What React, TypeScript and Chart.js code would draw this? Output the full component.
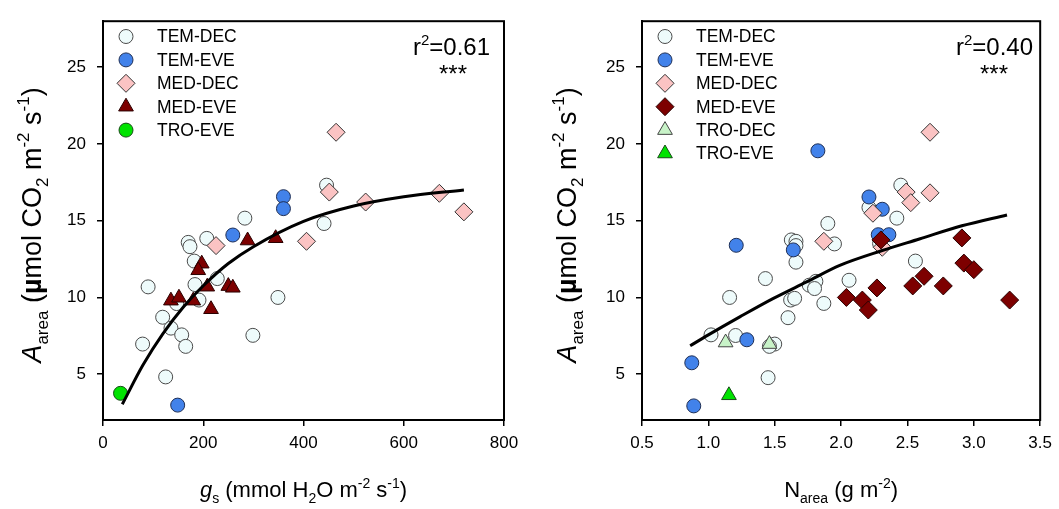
import React, { useEffect, useRef } from "react";
import { Chart, registerables } from "chart.js";
import { drawPoint } from "chart.js/helpers";

Chart.register(...registerables);

// ---------------- Left panel: gs (mmol H2O m-2 s-1) vs Aarea ----------------
const gsTemDecX = [170, 173.5, 207, 182, 90, 183.5, 191.5, 147, 228, 119, 135.6, 157, 165, 79, 125, 349, 299, 283, 441, 446];
const gsTemDecY = [13.58, 13.3, 13.84, 12.36, 10.68, 10.83, 9.82, 9.59, 11.22, 8.7, 7.99, 7.55, 6.8, 6.95, 4.81, 9.99, 7.52, 15.16, 14.81, 17.31];
const gsTemEveX = [259, 149, 360, 360];
const gsTemEveY = [14.06, 2.97, 16.56, 15.78];
const gsMedDecX = [225.5, 465, 451.5, 524, 671, 720, 406];
const gsMedDecY = [13.37, 20.76, 16.86, 16.21, 16.78, 15.57, 13.65];
const gsMedEveX = [288.5, 344.5, 197, 190, 208, 250, 259, 135.5, 151.5, 180, 215.5];
const gsMedEveY = [13.7, 13.85, 12.19, 11.76, 10.69, 10.73, 10.62, 9.78, 9.97, 9.78, 9.22];
const gsTroEveX = [35];
const gsTroEveY = [3.74];
const gsFitX = [38.5, 80, 120, 160, 200, 250, 300, 400, 500, 600, 720];
const gsFitY = [3.03, 5.6, 7.65, 9.35, 10.75, 12.2, 13.3, 14.95, 15.95, 16.55, 17.0];
const gsTicks = [0, 200, 400, 600, 800];

// ---------------- Right panel: Narea (g m-2) vs Aarea ----------------
const nTemDecX = [1.9, 1.625, 1.66, 1.66, 1.66, 1.95, 1.43, 1.16, 1.76, 1.81, 1.8, 1.62, 1.65, 1.87, 1.6, 1.02, 1.205, 1.5, 1.46, 1.45, 2.06, 2.56, 2.42, 2.45, 2.21, 2.29];
const nTemDecY = [14.81, 13.74, 13.65, 13.37, 12.29, 13.48, 11.22, 9.99, 10.79, 11.04, 10.57, 9.82, 9.93, 9.6, 8.67, 7.55, 7.51, 6.95, 6.8, 4.76, 11.11, 12.36, 15.16, 17.31, 15.85, 13.5];
const nTemEveX = [1.21, 1.64, 1.29, 0.875, 0.89, 1.825, 2.21, 2.31, 2.28, 2.36];
const nTemEveY = [13.39, 13.09, 7.23, 5.73, 2.92, 19.55, 16.54, 15.74, 14.08, 14.08];
const nMedDecX = [1.87, 2.67, 2.49, 2.525, 2.67, 2.24, 2.31];
const nMedDecY = [13.65, 20.76, 16.86, 16.17, 16.81, 15.48, 13.26];
const nMedEveX = [2.3, 2.91, 2.925, 3.0, 2.625, 2.54, 2.77, 2.27, 2.04, 2.16, 2.205, 3.27];
const nMedEveY = [13.74, 13.87, 12.23, 11.8, 11.37, 10.74, 10.74, 10.61, 9.99, 9.82, 9.17, 9.82];
const nTroDecX = [1.13, 1.46];
const nTroDecY = [7.05, 6.95];
const nTroEveX = [1.155];
const nTroEveY = [3.61];
const nFitX = [0.863, 1.0, 1.24, 1.49, 1.74, 1.99, 2.31, 2.59, 2.91, 3.25];
const nFitY = [6.84, 7.55, 8.74, 9.93, 11.0, 12.08, 13.05, 13.8, 14.66, 15.37];
const nTicks = [0.5, 1.0, 1.5, 2.0, 2.5, 3.0, 3.5];

const yTicks = [5, 10, 15, 20, 25];
const Y_MIN = 2;
const Y_MAX = 28;

const FONT = '"Liberation Sans", Arial, Helvetica, sans-serif';

type Style = { label: string; pointStyle: string; radius: number; fill: string; stroke: string; order: number };
const TEM_DEC: Style = { label: "TEM-DEC", pointStyle: "circle", radius: 7, fill: "#eefbfb", stroke: "#4a4a4a", order: 7 };
const TEM_EVE: Style = { label: "TEM-EVE", pointStyle: "circle", radius: 7, fill: "#4282ea", stroke: "#1f2f55", order: 6 };
const MED_DEC: Style = { label: "MED-DEC", pointStyle: "rectRot", radius: 9, fill: "#fbc3c3", stroke: "#333333", order: 5 };
const MED_EVE_T: Style = { label: "MED-EVE", pointStyle: "triangle", radius: 8.5, fill: "#7d0000", stroke: "#2a0000", order: 4 };
const MED_EVE_D: Style = { label: "MED-EVE", pointStyle: "rectRot", radius: 9, fill: "#7d0000", stroke: "#2a0000", order: 4 };
const TRO_DEC: Style = { label: "TRO-DEC", pointStyle: "triangle", radius: 8.5, fill: "#c8f3c8", stroke: "#444444", order: 3 };
const TRO_EVE_C: Style = { label: "TRO-EVE", pointStyle: "circle", radius: 7, fill: "#00e300", stroke: "#1a4a1a", order: 2 };
const TRO_EVE_T: Style = { label: "TRO-EVE", pointStyle: "triangle", radius: 8.5, fill: "#00e300", stroke: "#1a4a1a", order: 2 };

const pts = (xs: number[], ys: number[]) => xs.map((x, i) => ({ x, y: ys[i] }));

const scatterSet = (s: Style, xs: number[], ys: number[]) => ({
  label: s.label,
  data: pts(xs, ys),
  pointStyle: s.pointStyle,
  pointRadius: s.radius,
  pointBackgroundColor: s.fill,
  pointBorderColor: s.stroke,
  pointBorderWidth: 1,
  showLine: false,
  order: s.order,
  clip: false as any,
});

const fitSet = (xs: number[], ys: number[]) => ({
  label: "fit",
  data: pts(xs, ys),
  showLine: true,
  pointRadius: 0,
  borderColor: "#000",
  borderWidth: 3,
  cubicInterpolationMode: "monotone",
  order: 0,
  fill: false,
});

type Seg = { t: string; it?: boolean; b?: boolean; sub?: boolean; sup?: boolean };

function segFont(s: Seg, size: number) {
  const sz = s.sub || s.sup ? Math.round(size * 0.62) : size;
  return `${s.it ? "italic " : ""}${s.b ? "bold " : ""}${sz}px ${FONT}`;
}

function drawRich(ctx: CanvasRenderingContext2D, segs: Seg[], cx: number, cy: number, size: number, rotate: boolean, align: "center" | "right" = "center") {
  ctx.save();
  ctx.translate(cx, cy);
  if (rotate) ctx.rotate(-Math.PI / 2);
  ctx.textAlign = "left";
  ctx.textBaseline = "alphabetic";
  ctx.fillStyle = "#000";
  const widths = segs.map((s) => {
    ctx.font = segFont(s, size);
    return ctx.measureText(s.t).width;
  });
  const total = widths.reduce((a, b) => a + b, 0);
  let x = align === "center" ? -total / 2 : -total;
  const base = size * 0.36;
  segs.forEach((s, i) => {
    ctx.font = segFont(s, size);
    const dy = s.sub ? size * 0.26 : s.sup ? -size * 0.42 : 0;
    ctx.fillText(s.t, x, base + dy);
    x += widths[i];
  });
  ctx.restore();
}

type PanelCfg = {
  canvasLeft: number;
  canvasWidth: number;
  yWidth: number;
  padRight: number;
  xMin: number;
  xMax: number;
  xTicks: number[];
  xFmt: (v: number) => string;
  datasets: any[];
  legend: Style[];
  legX: number;
  legTextX: number;
  r2: string;
  r2X: number;
  starsX: number;
  yTitleX: number;
  xTitle: Seg[];
};

const yTitle: Seg[] = [
  { t: "A", it: true },
  { t: "area", sub: true },
  { t: " (" },
  { t: "\u00b5", b: true },
  { t: "mol CO" },
  { t: "2", sub: true },
  { t: " m" },
  { t: "-2", sup: true },
  { t: " s" },
  { t: "-1", sup: true },
  { t: ")" },
];

const leftCfg: PanelCfg = {
  canvasLeft: 0,
  canvasWidth: 530,
  yWidth: 103,
  padRight: 26,
  xMin: 0,
  xMax: 800,
  xTicks: gsTicks,
  xFmt: (v) => String(v),
  datasets: [
    fitSet(gsFitX, gsFitY),
    scatterSet(TEM_DEC, gsTemDecX, gsTemDecY),
    scatterSet(TEM_EVE, gsTemEveX, gsTemEveY),
    scatterSet(MED_DEC, gsMedDecX, gsMedDecY),
    scatterSet(MED_EVE_T, gsMedEveX, gsMedEveY),
    scatterSet(TRO_EVE_C, gsTroEveX, gsTroEveY),
  ],
  legend: [TEM_DEC, TEM_EVE, MED_DEC, MED_EVE_T, TRO_EVE_C],
  legX: 126,
  legTextX: 157,
  r2: "0.61",
  r2X: 490,
  starsX: 453,
  yTitleX: 31,
  xTitle: [
    { t: "g", it: true },
    { t: "s", sub: true },
    { t: " (mmol H" },
    { t: "2", sub: true },
    { t: "O m" },
    { t: "-2", sup: true },
    { t: " s" },
    { t: "-1", sup: true },
    { t: ")" },
  ],
};

const rightCfg: PanelCfg = {
  canvasLeft: 530,
  canvasWidth: 529,
  yWidth: 112,
  padRight: 17,
  xMin: 0.5,
  xMax: 3.5,
  xTicks: nTicks,
  xFmt: (v) => v.toFixed(1),
  datasets: [
    fitSet(nFitX, nFitY),
    scatterSet(TEM_DEC, nTemDecX, nTemDecY),
    scatterSet(TEM_EVE, nTemEveX, nTemEveY),
    scatterSet(MED_DEC, nMedDecX, nMedDecY),
    scatterSet(MED_EVE_D, nMedEveX, nMedEveY),
    scatterSet(TRO_DEC, nTroDecX, nTroDecY),
    scatterSet(TRO_EVE_T, nTroEveX, nTroEveY),
  ],
  legend: [TEM_DEC, TEM_EVE, MED_DEC, MED_EVE_D, TRO_DEC, TRO_EVE_T],
  legX: 135,
  legTextX: 166,
  r2: "0.40",
  r2X: 503,
  starsX: 464,
  yTitleX: 36,
  xTitle: [{ t: "N" }, { t: "area", sub: true }, { t: " (g m" }, { t: "-2", sup: true }, { t: ")" }],
};

function makePlugin(cfg: PanelCfg) {
  return {
    id: "panelDecor",
    afterDraw(chart: any) {
      const ctx: CanvasRenderingContext2D = chart.ctx;
      const a = chart.chartArea;
      ctx.save();
      ctx.strokeStyle = "#000";
      ctx.lineWidth = 2;
      ctx.strokeRect(a.left, a.top, a.right - a.left, a.bottom - a.top);

      // legend
      cfg.legend.forEach((s, i) => {
        const y = 36.5 + i * 23.4;
        ctx.fillStyle = s.fill;
        ctx.strokeStyle = s.stroke;
        ctx.lineWidth = 1;
        drawPoint(ctx, { pointStyle: s.pointStyle as any, radius: s.radius, rotation: 0, borderWidth: 1 } as any, cfg.legX, y);
        ctx.fillStyle = "#000";
        ctx.font = `17.5px ${FONT}`;
        ctx.textAlign = "left";
        ctx.textBaseline = "middle";
        ctx.fillText(s.label, cfg.legTextX, y + 1);
      });

      // r^2 and significance
      drawRich(ctx, [{ t: "r" }, { t: "2", sup: true }, { t: "=" + cfg.r2 }], cfg.r2X, 46, 24, false, "right");
      ctx.fillStyle = "#000";
      ctx.font = `24px ${FONT}`;
      ctx.textAlign = "center";
      ctx.textBaseline = "alphabetic";
      ctx.fillText("***", cfg.starsX, 82);

      // axis titles
      const cx = (a.left + a.right) / 2;
      drawRich(ctx, yTitle, cfg.yTitleX, 225, 27, true);
      drawRich(ctx, cfg.xTitle, cx, 489, 22, false);
      ctx.restore();
    },
  };
}

function buildChart(canvas: HTMLCanvasElement, cfg: PanelCfg) {
  const tickFont = { family: FONT, size: 17 };
  return new Chart(canvas, {
    type: "scatter",
    data: { datasets: cfg.datasets as any },
    options: {
      animation: false,
      responsive: false,
      devicePixelRatio: 1,
      layout: { padding: { top: 17, right: cfg.padRight, left: 0, bottom: 0 } },
      plugins: { legend: { display: false }, tooltip: { enabled: false }, title: { display: false } },
      events: [],
      scales: {
        x: {
          type: "linear",
          min: cfg.xMin,
          max: cfg.xMax,
          afterBuildTicks: (s: any) => {
            s.ticks = cfg.xTicks.map((v) => ({ value: v }));
          },
          afterFit: (s: any) => {
            s.height = 89;
          },
          ticks: { font: tickFont, color: "#000", padding: 7, maxRotation: 0, autoSkip: false, callback: (v: any) => cfg.xFmt(Number(v)) },
          grid: { display: true, drawOnChartArea: false, drawTicks: true, tickLength: 6, color: "#000", lineWidth: 1.5 },
          border: { display: true, color: "#000", width: 2 },
        },
        y: {
          type: "linear",
          min: Y_MIN,
          max: Y_MAX,
          afterBuildTicks: (s: any) => {
            s.ticks = yTicks.map((v) => ({ value: v }));
          },
          afterFit: (s: any) => {
            s.width = cfg.yWidth;
          },
          ticks: { font: tickFont, color: "#000", padding: 11, autoSkip: false },
          grid: { display: true, drawOnChartArea: false, drawTicks: true, tickLength: 6, color: "#000", lineWidth: 1.5 },
          border: { display: true, color: "#000", width: 2 },
        },
      },
    } as any,
    plugins: [makePlugin(cfg)],
  });
}

export default function App() {
  const leftRef = useRef<HTMLCanvasElement>(null);
  const rightRef = useRef<HTMLCanvasElement>(null);

  useEffect(() => {
    const c1 = buildChart(leftRef.current!, leftCfg);
    const c2 = buildChart(rightRef.current!, rightCfg);
    return () => {
      c1.destroy();
      c2.destroy();
    };
  }, []);

  return (
    <div style={{ position: "fixed", left: 0, top: 0, width: 1059, height: 509, background: "#fff", overflow: "hidden" }}>
      <canvas
        ref={leftRef}
        width={leftCfg.canvasWidth}
        height={509}
        style={{ position: "absolute", left: leftCfg.canvasLeft, top: 0, width: leftCfg.canvasWidth, height: 509 }}
      />
      <canvas
        ref={rightRef}
        width={rightCfg.canvasWidth}
        height={509}
        style={{ position: "absolute", left: rightCfg.canvasLeft, top: 0, width: rightCfg.canvasWidth, height: 509 }}
      />
    </div>
  );
}
